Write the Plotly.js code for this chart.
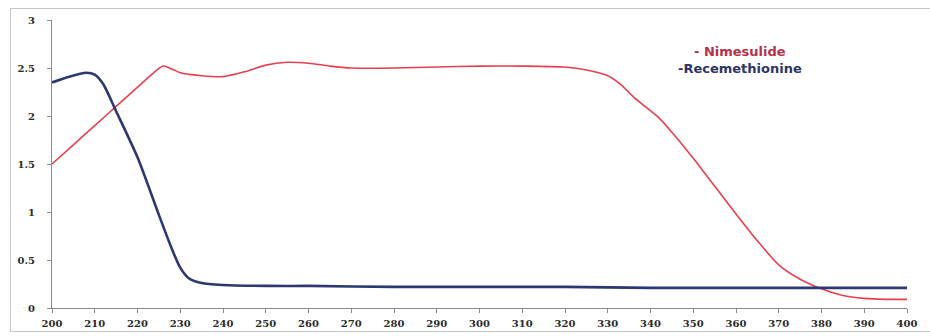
<!DOCTYPE html>
<html>
<head>
<meta charset="utf-8">
<script src="https://cdn.plot.ly/plotly-3.0.1.min.js"></script>
<style>
  html, body { margin: 0; padding: 0; background: #ffffff; }
  #frame { position: absolute; left: 10px; top: 8px; width: 930px; height: 324px; border: 1px solid #c8c8c8; box-sizing: border-box; }
  #chart { position: absolute; left: 0; top: 0; width: 930px; height: 336px; }
</style>
</head>
<body>
<div id="frame"></div>
<div id="chart"></div>
<script>
// Wavelength (nm) and absorbance values
const nimesulideX = [200, 205, 210, 215, 220, 223, 226, 228, 230, 235, 240, 245, 250, 255, 260, 265, 270, 280, 290, 300, 310, 320, 325, 330, 333, 336, 339, 342, 345, 350, 355, 360, 365, 370, 375, 380, 385, 390, 395, 400];
const nimesulideY = [1.50, 1.70, 1.90, 2.10, 2.30, 2.42, 2.52, 2.49, 2.45, 2.42, 2.41, 2.46, 2.53, 2.56, 2.55, 2.52, 2.50, 2.50, 2.51, 2.52, 2.52, 2.51, 2.48, 2.42, 2.33, 2.20, 2.09, 1.98, 1.83, 1.56, 1.27, 0.98, 0.70, 0.45, 0.30, 0.20, 0.13, 0.10, 0.09, 0.09];

const recemethionineX = [200, 204, 208, 210, 212, 215, 220, 225, 228, 230, 232, 235, 240, 250, 260, 280, 300, 320, 340, 360, 380, 400];
const recemethionineY = [2.35, 2.41, 2.45, 2.43, 2.33, 2.05, 1.57, 0.97, 0.62, 0.42, 0.31, 0.26, 0.24, 0.23, 0.23, 0.22, 0.22, 0.22, 0.21, 0.21, 0.21, 0.21];

const xTicks = [200, 210, 220, 230, 240, 250, 260, 270, 280, 290, 300, 310, 320, 330, 340, 350, 360, 370, 380, 390, 400];
const yTicks = [0, 0.5, 1, 1.5, 2, 2.5, 3];
const yTickLabels = ['0', '0.5', '1', '1.5', '2', '2.5', '3'];

const tickFont = { family: 'DejaVu Serif, Liberation Serif, serif', size: 10, color: '#2a2a2a', weight: 'bold' };

const traces = [
  {
    x: nimesulideX, y: nimesulideY, type: 'scatter', mode: 'lines', name: 'Nimesulide',
    line: { color: '#e6404f', width: 1.6, shape: 'spline', smoothing: 0.7 }
  },
  {
    x: recemethionineX, y: recemethionineY, type: 'scatter', mode: 'lines', name: 'Recemethionine',
    line: { color: '#2c3874', width: 2.6, shape: 'spline', smoothing: 0.7 }
  }
];

const layout = {
  width: 930, height: 336,
  margin: { l: 52, r: 23, t: 20, b: 28 },
  paper_bgcolor: 'rgba(0,0,0,0)', plot_bgcolor: 'rgba(0,0,0,0)',
  showlegend: false,
  xaxis: {
    range: [200, 400], tickvals: xTicks, ticktext: xTicks.map(String),
    showgrid: false, zeroline: false, showline: true, linecolor: '#8a8a8a', linewidth: 1,
    ticks: 'outside', ticklen: 4, tickcolor: '#8a8a8a', tickfont: tickFont, ticklabelstandoff: 2
  },
  yaxis: {
    range: [0, 3], tickvals: yTicks, ticktext: yTickLabels,
    showgrid: false, zeroline: false, showline: true, linecolor: '#8a8a8a', linewidth: 1,
    ticks: 'outside', ticklen: 4, tickcolor: '#8a8a8a', tickfont: tickFont, ticklabelstandoff: 10
  },
  annotations: [
    { xref: 'paper', yref: 'paper', x: 0.7485, y: 0.889, xanchor: 'left', yanchor: 'middle', showarrow: false,
      text: '- Nimesulide', font: { family: 'DejaVu Sans, sans-serif', size: 13, color: '#b3324a', weight: 'bold' } },
    { xref: 'paper', yref: 'paper', x: 0.730, y: 0.831, xanchor: 'left', yanchor: 'middle', showarrow: false,
      text: '-Recemethionine', font: { family: 'DejaVu Sans, sans-serif', size: 13, color: '#2c3466', weight: 'bold' } }
  ]
};

Plotly.newPlot('chart', traces, layout, { displayModeBar: false, staticPlot: true });
</script>
</body>
</html>
